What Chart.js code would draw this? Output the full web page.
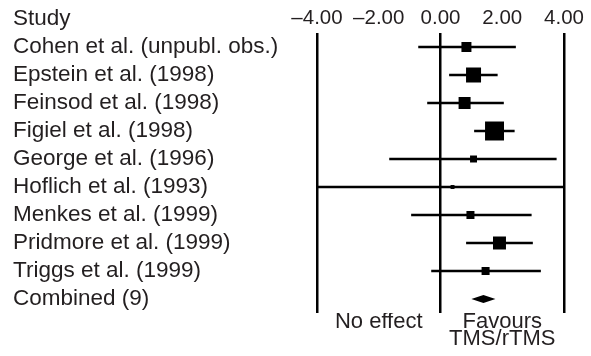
<!DOCTYPE html>
<html>
<head>
<meta charset="utf-8">
<script src="https://cdn.jsdelivr.net/npm/chart.js@4.4.0/dist/chart.umd.min.js"></script>
<style>
  html, body { margin: 0; padding: 0; background: #fff; }
</style>
</head>
<body>
<canvas id="forest" width="591" height="356"></canvas>
<script>
// studies in the meta-analysis, top to bottom
const studies = [
    'Cohen et al. (unpubl. obs.)',
    'Epstein et al. (1998)',
    'Feinsod et al. (1998)',
    'Figiel et al. (1998)',
    'George et al. (1996)',
    'Hoflich et al. (1993)',
    'Menkes et al. (1999)',
    'Pridmore et al. (1999)',
    'Triggs et al. (1999)'
];
// effect size and 95% CI
const effect = [0.84, 1.07, 0.78, 1.75, 1.07, 0.39, 0.97, 1.91, 1.46];
const lower  = [-0.71, 0.29, -0.42, 1.10, -1.65, -4.00, -0.94, 0.84, -0.29];
const upper  = [2.43, 1.84, 2.04, 2.39, 3.75, 4.00, 2.94, 2.98, 3.24];
// relative weight (%), box area follows it
const weights = [8.4, 18.9, 12.1, 30.3, 4.1, 1.3, 5.4, 14.2, 5.4];

const combinedLabel = 'Combined (9)';
const combinedCI = [1.00, 1.39, 1.78]; // lower, estimate, upper

const xTicks = [-4, -2, 0, 2, 4];
const refLines = [-4, 0, 4];
const footPos = [-2, 2];
const footLabels = ['No effect', ['Favours', 'TMS/rTMS']];

const rowLabels = studies.concat([combinedLabel]);
const ink = '#231f20';

Chart.defaults.font.family = '"Liberation Sans", Arial, Helvetica, sans-serif';
Chart.defaults.color = ink;

const diamond = {
    id: 'diamond',
    afterDatasetsDraw(chart) {
        const ctx = chart.ctx;
        const x = chart.scales.x, y = chart.scales.y;
        const yc = y.getPixelForValue(rowLabels.length - 1);
        const xl = x.getPixelForValue(combinedCI[0]);
        const xm = x.getPixelForValue(combinedCI[1]);
        const xh = x.getPixelForValue(combinedCI[2]);
        ctx.save();
        ctx.fillStyle = '#000';
        ctx.beginPath();
        ctx.moveTo(xl, yc);
        ctx.lineTo(xm, yc - 4);
        ctx.lineTo(xh, yc);
        ctx.lineTo(xm, yc + 4);
        ctx.closePath();
        ctx.fill();
        ctx.restore();
    }
};

const header = {
    id: 'header',
    afterDraw(chart) {
        const ctx = chart.ctx;
        ctx.save();
        ctx.font = '22.5px "Liberation Sans", Arial, sans-serif';
        ctx.fillStyle = ink;
        ctx.textBaseline = 'middle';
        ctx.textAlign = 'left';
        ctx.fillText('Study', 13, 19);
        ctx.restore();
    }
};

new Chart(document.getElementById('forest'), {
    type: 'bar',
    data: {
        labels: rowLabels,
        datasets: [{
            // confidence intervals
            type: 'bar',
            data: lower.map((lo, i) => [lo, upper[i]]),
            backgroundColor: '#000',
            barThickness: 1.8,
            borderWidth: 0,
            xAxisID: 'x',
            yAxisID: 'y'
        }, {
            // study estimates
            type: 'line',
            showLine: false,
            data: effect.map((m, i) => ({ x: m, y: studies[i] })),
            pointStyle: 'rect',
            pointRadius: weights.map(w => 3.45 * Math.sqrt(w) / Math.SQRT2),
            pointHoverRadius: weights.map(w => 3.45 * Math.sqrt(w) / Math.SQRT2),
            pointBackgroundColor: '#000',
            pointBorderWidth: 0,
            xAxisID: 'x',
            yAxisID: 'y'
        }]
    },
    options: {
        indexAxis: 'y',
        responsive: false,
        animation: false,
        layout: { padding: { left: 13, right: 27, top: 0, bottom: 0 } },
        plugins: { legend: { display: false }, tooltip: { enabled: false } },
        scales: {
            x: {
                type: 'linear',
                position: 'top',
                min: -4,
                max: 4,
                afterBuildTicks: s => { s.ticks = xTicks.map(v => ({ value: v })); },
                afterFit: s => { s.height = 33; },
                ticks: {
                    font: { size: 20.5 },
                    padding: 2,
                    callback: v => (v < 0 ? '\u2013' : '') + Math.abs(v).toFixed(2)
                },
                grid: {
                    drawTicks: false,
                    lineWidth: 2.5,
                    color: c => refLines.includes(c.tick.value) ? '#000' : 'rgba(0,0,0,0)'
                },
                border: { display: false }
            },
            x2: {
                type: 'linear',
                axis: 'x',
                position: 'bottom',
                min: -4,
                max: 4,
                afterBuildTicks: s => { s.ticks = footPos.map(v => ({ value: v })); },
                afterFit: s => { s.height = 43; },
                ticks: {
                    font: { size: 22, lineHeight: 0.75 },
                    padding: -7,
                    maxRotation: 0,
                    callback: (v, i) => footLabels[i]
                },
                grid: { display: false },
                border: { display: false }
            },
            y: {
                type: 'category',
                labels: rowLabels,
                offset: true,
                afterFit: s => { s.width = 304; },
                ticks: {
                    font: { size: 22.5 },
                    crossAlign: 'far',
                    autoSkip: false,
                    padding: 0
                },
                grid: { display: false },
                border: { display: false }
            }
        }
    },
    plugins: [diamond, header]
});
</script>
</body>
</html>
